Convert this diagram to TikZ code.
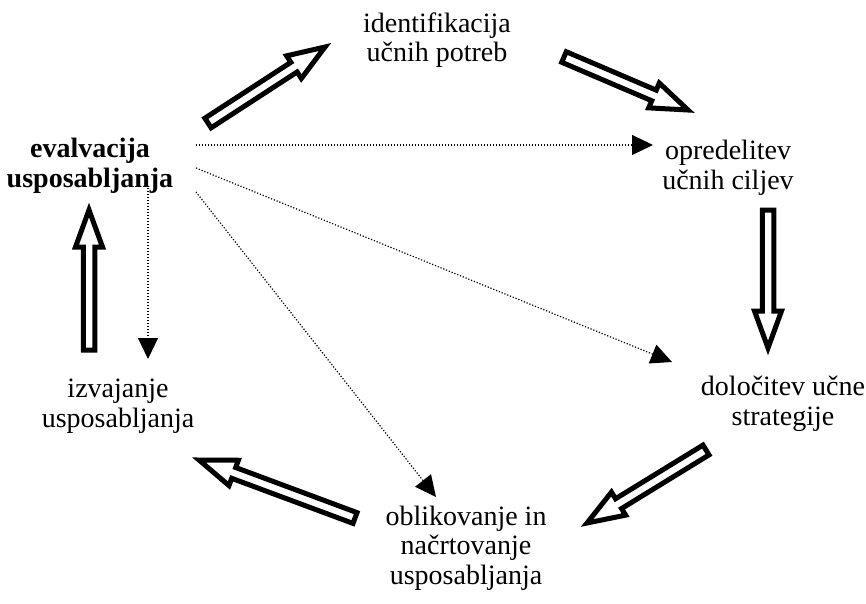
\documentclass[tikz,border=0pt]{standalone}
\usepackage{fontspec}
\setmainfont{Liberation Serif}
\usetikzlibrary{arrows.meta,calc}
\newcommand\sw{5.75}
\newcommand\hw{13.5}
\newcommand\hl{37}
\newcommand\blockarrow[2]{%
  \path let \p1=(#1), \p2=(#2) in
    \pgfextra{\pgfmathsetmacro\ba{atan2(\y2-\y1,\x2-\x1)}%
      \pgfmathsetmacro\bl{veclen(\x2-\x1,\y2-\y1)}%
      \global\let\gba\ba\global\let\gbl\bl};
  \begin{scope}[shift={(#1)},rotate=\gba]
    \draw[blockline] (0,-\sw) -- (\gbl-\hl,-\sw) -- (\gbl-\hl,-\hw) -- (\gbl,0)
      -- (\gbl-\hl,\hw) -- (\gbl-\hl,\sw) -- (0,\sw) -- cycle;
  \end{scope}}
\begin{document}
\begin{tikzpicture}[x=1pt,y=-1pt,
  lbl/.style={align=center,font=\fontsize{28}{29.5}\selectfont,inner sep=0pt},
  blockline/.style={draw=black,fill=white,line width=5pt,line join=miter},
  dotarrow/.style={line width=1.2pt,dash pattern=on 1.2pt off 1.8pt,
    -{Triangle[length=21pt,width=20pt]}}]
\useasboundingbox (0,0) rectangle (866,604);
\node[lbl] (ident) at (437,40) {identifikacija\\u\v{c}nih potreb};
\node[lbl] (opred) at (728,168) {opredelitev\\u\v{c}nih ciljev};
\node[lbl,font=\fontsize{28}{29.5}\selectfont\bfseries] (eval) at (90,166) {evalvacija\\usposabljanja};
\node[lbl] (izv) at (118,406) {izvajanje\\usposabljanja};
\node[lbl] (dolo) at (783,404) {dolo\v{c}itev u\v{c}ne\\strategije};
\node[lbl] (oblik) at (466,548) {oblikovanje in\\na\v{c}rtovanje\\usposabljanja};
% block arrows
\coordinate (a1s) at (208,123); \coordinate (a1e) at (325,47);
\coordinate (a2s) at (564,57);  \coordinate (a2e) at (688,110);
\coordinate (a3s) at (768,210); \coordinate (a3e) at (768,348);
\coordinate (a4s) at (706,450); \coordinate (a4e) at (587,523);
\coordinate (a5s) at (355,518); \coordinate (a5e) at (199,460);
\coordinate (a6s) at (89,350);  \coordinate (a6e) at (89,210);
\blockarrow{a1s}{a1e}
\blockarrow{a2s}{a2e}
\blockarrow{a3s}{a3e}
\blockarrow{a4s}{a4e}
\blockarrow{a5s}{a5e}
\blockarrow{a6s}{a6e}
% dotted arrows
\coordinate (d1s) at (196,145); \coordinate (d1e) at (653,145);
\coordinate (d2s) at (196,168); \coordinate (d2e) at (672,362);
\coordinate (d3s) at (196,192); \coordinate (d3e) at (436,497);
\coordinate (d4s) at (148,188); \coordinate (d4e) at (148,359);
\draw[dotarrow] (d1s) -- (d1e);
\draw[dotarrow] (d2s) -- (d2e);
\draw[dotarrow] (d3s) -- (d3e);
\draw[dotarrow] (d4s) -- (d4e);
\end{tikzpicture}
\end{document}
